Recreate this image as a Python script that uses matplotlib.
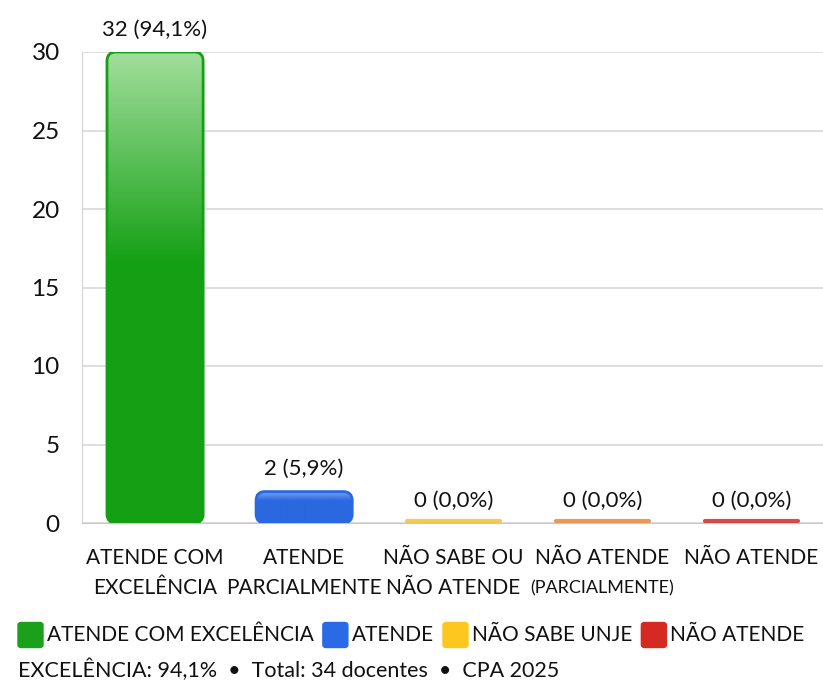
import numpy as np
import matplotlib
matplotlib.use("Agg")
import matplotlib.pyplot as plt
from matplotlib.patches import FancyBboxPatch
from matplotlib.colors import LinearSegmentedColormap
from matplotlib.transforms import blended_transform_factory

plt.rcParams['font.family'] = ['Lato', 'DejaVu Sans']

# dados
categorias = [["ATENDE COM", "EXCELÊNCIA"], ["ATENDE", "PARCIALMENTE"], ["NÃO SABE OU", "NÃO ATENDE"],
              ["NÃO ATENDE", "(PARCIALMENTE)"], ["NÃO ATENDE"]]
valores = [32, 2, 0, 0, 0]
rotulos = ["32 (94,1%)", "2 (5,9%)", "0 (0,0%)", "0 (0,0%)", "0 (0,0%)"]
cores = ["#14a014", "#2a68e0", "#f2c230", "#e8873a", "#d02a2a"]
cores_topo = ["#a2de9c", "#78a6f2", "#f2c230", "#e8873a", "#d02a2a"]
legenda = ["ATENDE COM EXCELÊNCIA", "ATENDE", "NÃO SABE UNJE", "NÃO ATENDE"]
cores_legenda = ["#1aa01a", "#2a6ae6", "#fcc820", "#d42a22"]
rodape = "EXCELÊNCIA: 94,1%  •  Total: 34 docentes  •  CPA 2025"

ymax = 30
larg = 0.645
W, H = 823, 686

fig = plt.figure(figsize=(8.23, 6.86), dpi=100)
ax = fig.add_axes([82/W, 1 - 523/H, 1 - 82/W, (523 - 52)/H])
ax.set_xlim(-0.49, 4.48)
ax.set_ylim(0, ymax)

# grade
ax.set_yticks([0, 5, 10, 15, 20, 25, 30])
ax.yaxis.grid(True, color="#d4d4d4", linewidth=1.1)
ax.set_axisbelow(True)
for s in ["top", "right"]:
    ax.spines[s].set_visible(False)
ax.spines["left"].set_color("#d4d4d4")
ax.spines["bottom"].set_color("#c8c8c8")
ax.tick_params(axis="y", length=0, labelsize=17.5, pad=16, labelcolor="#111111")
ax.set_xticks([])

# rotulos das categorias (duas linhas)
tr = blended_transform_factory(ax.transData, fig.transFigure)
for i, linhas in enumerate(categorias):
    for j, txt in enumerate(linhas):
        fs = 13 if (i == 3 and j == 1) else 15
        fig.text(i, 1 - (558 + 30 * j) / H, txt, transform=tr, ha="center", va="center",
                 fontsize=fs, color="#111111")

# proporcao px por unidade para cantos arredondados
asp = (W - 82) / 4.97 / ((523 - 52) / ymax)

for i, v in enumerate(valores):
    h = min(v, ymax)
    x0 = i - larg / 2
    if h > 0:
        p = FancyBboxPatch((x0, 0), larg, h,
                           boxstyle="round,pad=0,rounding_size=0.06",
                           mutation_aspect=asp, facecolor="none",
                           edgecolor=cores[i], linewidth=2, zorder=3)
        ax.add_patch(p)
        cmap = LinearSegmentedColormap.from_list(
            "g%d" % i, [(0, cores[i]), (0.55 if i == 0 else 0.7, cores[i]), (1, cores_topo[i])])
        grad = np.linspace(0, 1, 256).reshape(-1, 1)
        im = ax.imshow(grad, cmap=cmap, origin="lower", aspect="auto",
                       extent=(x0, x0 + larg, 0, h), zorder=2)
        im.set_clip_path(p)
    else:
        ax.plot([x0 + 0.01, x0 + larg - 0.01], [0.1, 0.1], color=cores[i],
                linewidth=3, solid_capstyle="round", zorder=3, alpha=0.85)
    ax.annotate(rotulos[i], (i, h), xytext=(0, 9), textcoords="offset points",
                ha="center", va="bottom", fontsize=16, color="#111111",
                annotation_clip=False)

ax.set_xlim(-0.49, 4.48)
ax.set_ylim(0, ymax)

# legenda manual
fig.canvas.draw()
rend = fig.canvas.get_renderer()
x = 18
yc = 635
q = 25
for nome, c in zip(legenda, cores_legenda):
    sq = FancyBboxPatch((x / W, 1 - (yc + q / 2) / H), q / W, q / H,
                        boxstyle="round,pad=0,rounding_size=0.004", transform=fig.transFigure,
                        facecolor=c, edgecolor=c, linewidth=1)
    fig.patches.append(sq)
    t = fig.text((x + q + 4) / W, 1 - yc / H, nome, fontsize=15, va="center", ha="left",
                 color="#111111")
    bb = t.get_window_extent(rend)
    x = bb.x1 + 9

fig.text(18 / W, 1 - 670 / H, rodape, fontsize=15.5, va="center", ha="left", color="#111111")

fig.savefig("out.png", dpi=100)
